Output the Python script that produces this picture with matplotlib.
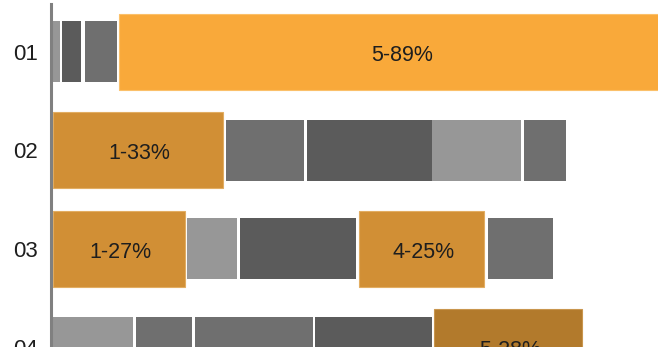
import numpy as np
import matplotlib
matplotlib.use("Agg")
import matplotlib.pyplot as plt

plt.rcParams['font.family'] = ['Liberation Sans', 'DejaVu Sans']

# one entry per segment: row index, start, duration, kind, label
row_labels = ['01', '02', '03', '04']
seg_row = [0, 0, 0, 0,
           1, 1, 1, 1, 1,
           2, 2, 2, 2, 2,
           3, 3, 3, 3, 3]
seg_start = [2, 11.5, 34.5, 68.5,
             2, 175.5, 256.5, 381.5, 473,
             2, 136.5, 189.5, 308.5, 437.5,
             2, 85.5, 144.5, 264.5, 383.5]
seg_width = [7, 19, 31.5, 562,
             170.5, 78, 125, 89, 42.5,
             132.5, 50, 116, 125, 65,
             80.5, 56, 118, 117, 148]
seg_kind = ['light', 'dark', 'mid', 'hot',
            'warm', 'mid', 'dark', 'light', 'mid',
            'warm', 'light', 'dark', 'warm', 'mid',
            'light', 'mid', 'mid', 'dark', 'deep']
seg_text = ['', '', '', '5-89%',
            '1-33%', '', '', '', '',
            '1-27%', '', '', '4-25%', '',
            '', '', '', '', '5-28%']

colors = {'light': '#979797', 'mid': '#6f6f6f', 'dark': '#5b5b5b',
          'hot': '#f9a93a', 'warm': '#d18f35', 'deep': '#b27a2c'}
edges = {'hot': '#fbc06a', 'warm': '#e2ad62', 'deep': '#c9964e'}

fig = plt.figure(figsize=(6.58, 3.47), dpi=100)
ax = fig.add_axes([50.5 / 658, 0, 607.5 / 658, 343 / 347])

for r, s, w, k, t in zip(seg_row, seg_start, seg_width, seg_kind, seg_text):
    orange = k in edges
    h = 0.77 if orange else 0.62
    ax.barh(r, w, left=s, height=h, color=colors[k],
            edgecolor=edges.get(k, colors[k]), linewidth=0.8 if orange else 0)
    if t:
        ax.text(s + w / 2 + 2, r + 0.035, t, ha='center', va='center',
                fontsize=15.5, color='#1e1e1e')

ax.set_xlim(0, 607.5)
ax.set_ylim(2.96, -0.487)
ax.set_yticks(range(len(row_labels)))
ax.set_yticklabels(row_labels, fontsize=16, color='#1e1e1e', va='center_baseline')
ax.tick_params(axis='y', length=0, pad=9)
ax.set_xticks([])
for side in ['top', 'right', 'bottom']:
    ax.spines[side].set_visible(False)
ax.spines['left'].set_color('#808080')
ax.spines['left'].set_linewidth(2.2)
ax.set_facecolor('white')

fig.savefig('out.png', dpi=100)
